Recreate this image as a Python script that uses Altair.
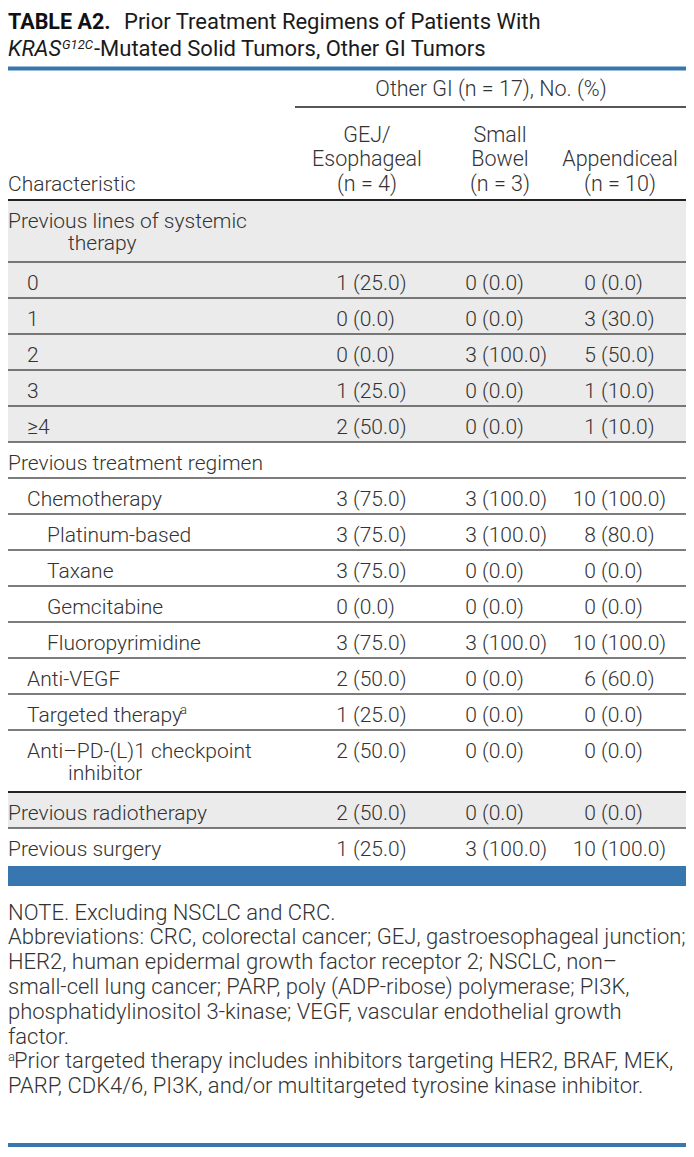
import altair as alt
import pandas as pd

# ---------------- data ----------------
title_bold = "TABLE A2."
title_rest1 = "Prior Treatment Regimens of Patients With"
title_gene = "KRAS"
title_sup = "G12C"
title_rest2 = "-Mutated Solid Tumors, Other GI Tumors"

spanner = "Other GI (n = 17), No. (%)"
stub_header = "Characteristic"
col_headers = [["GEJ/", "Esophageal", "(n = 4)"],
               ["Small", "Bowel", "(n = 3)"],
               ["Appendiceal", "(n = 10)"]]

row_labels = [["Previous lines of systemic", "therapy"], ["0"], ["1"], ["2"], ["3"], ["≥4"],
              ["Previous treatment regimen"], ["Chemotherapy"], ["Platinum-based"], ["Taxane"],
              ["Gemcitabine"], ["Fluoropyrimidine"], ["Anti-VEGF"], ["Targeted therapy"],
              ["Anti–PD-(L)1 checkpoint", "inhibitor"], ["Previous radiotherapy"], ["Previous surgery"]]
row_indent = [0, 1, 1, 1, 1, 1, 0, 1, 2, 2, 2, 2, 1, 1, 1, 0, 0]
row_group = [0, 0, 0, 0, 0, 0, 1, 1, 1, 1, 1, 1, 1, 1, 1, 2, 3]
row_note = ["", "", "", "", "", "", "", "", "", "", "", "", "", "a", "", "", ""]

gej_n = [None, 1, 0, 0, 1, 2, None, 3, 3, 3, 0, 3, 2, 1, 2, 2, 1]
gej_pct = [None, 25.0, 0.0, 0.0, 25.0, 50.0, None, 75.0, 75.0, 75.0, 0.0, 75.0, 50.0, 25.0, 50.0, 50.0, 25.0]
sb_n = [None, 0, 0, 3, 0, 0, None, 3, 3, 0, 0, 3, 0, 0, 0, 0, 3]
sb_pct = [None, 0.0, 0.0, 100.0, 0.0, 0.0, None, 100.0, 100.0, 0.0, 0.0, 100.0, 0.0, 0.0, 0.0, 0.0, 100.0]
app_n = [None, 0, 3, 5, 1, 1, None, 10, 8, 0, 0, 10, 6, 0, 0, 0, 10]
app_pct = [None, 0.0, 30.0, 50.0, 10.0, 10.0, None, 100.0, 80.0, 0.0, 0.0, 100.0, 60.0, 0.0, 0.0, 0.0, 100.0]

notes = ["NOTE. Excluding NSCLC and CRC.",
         "Abbreviations: CRC, colorectal cancer; GEJ, gastroesophageal junction;",
         "HER2, human epidermal growth factor receptor 2; NSCLC, non–",
         "small-cell lung cancer; PARP, poly (ADP-ribose) polymerase; PI3K,",
         "phosphatidylinositol 3-kinase; VEGF, vascular endothelial growth",
         "factor.",
         "Prior targeted therapy includes inhibitors targeting HER2, BRAF, MEK,",
         "PARP, CDK4/6, PI3K, and/or multitargeted tyrosine kinase inhibitor."]
notes_mark_line = 6
footnote_mark = "a"

# ---------------- layout (page pixel frame) ----------------
X0, X1 = 8, 686          # visible page area (8px body margin)
Y0, Y1 = 8, 1149
W, H = X1 - X0, Y1 - Y0
FS = 21          # body
FS_HEAD = 21.5   # column headers
FS_TITLE = 22
FS_TITLE_BOLD = 21.5
FS_NOTE = 22
FS_SUP = 13
BLUE = "#3776ae"
GRAY = "#ebebeb"
TXT = "#333333"
TTL = "#1a1a1a"

X_INDENT = [8, 27, 47]
X_WRAP = 68
COL_SPLIT = [348, 477, 596]
GAP = 5
COL_CENTER = [367, 500, 620]
TABLE_RIGHT = 686

rects, rules, left, right, center = [], [], [], [], []
title_reg, bold, italic, italic_sup, sup, note_txt = [], [], [], [], [], []

# title
bold.append(dict(x=X0, y=29, t=title_bold))
title_reg.append(dict(x=124, y=29, t=title_rest1))
italic.append(dict(x=X0, y=55.5, t=title_gene))
italic_sup.append(dict(x=62, y=49, t=title_sup))
title_reg.append(dict(x=94, y=55.5, t=title_rest2))
rects.append(dict(x=X0, x2=X1, y=66.5, y2=70.5, c=BLUE))

# header
center.append(dict(x=491, y=95.5, t=spanner))
rules.append(dict(x=295, x2=TABLE_RIGHT, y=107, c="#1e1e1e", w=1.5))
for cx, lines in zip(COL_CENTER, col_headers):
    base = 190.5 - 24.5 * (len(lines) - 1)
    for k, ln in enumerate(lines):
        center.append(dict(x=cx, y=base + 24.5 * k, t=ln))
left.append(dict(x=X0, y=190.5, t=stub_header))

# body rows
top = 200
cols = [(gej_n, gej_pct), (sb_n, sb_pct), (app_n, app_pct)]
for i, lines in enumerate(row_labels):
    h = 36 if len(lines) == 1 else 62
    if i == len(row_labels) - 1:
        h = 38
    shaded = row_group[i] % 2 == 0
    if shaded:
        rects.append(dict(x=X0, x2=TABLE_RIGHT, y=top, y2=top + h, c=GRAY))
    prev_shaded = (i > 0 and row_group[i - 1] % 2 == 0)
    if i == 0 or (shaded and not prev_shaded):
        rules.append(dict(x=X0, x2=TABLE_RIGHT, y=top, c="#222222", w=2.2))
    else:
        rules.append(dict(x=X0, x2=TABLE_RIGHT, y=top, c="#505050", w=1.4))
    for k, ln in enumerate(lines):
        xx = X_INDENT[row_indent[i]] if k == 0 else X_WRAP
        left.append(dict(x=xx, y=top + 27.5 + 22 * k, t=ln))
    if row_note[i]:
        sup.append(dict(x=X_INDENT[row_indent[i]] + 153, y=top + 20, t=row_note[i]))
    for (ns, ps), xs in zip(cols, COL_SPLIT):
        if ns[i] is not None:
            right.append(dict(x=xs, y=top + 27.5, t=str(ns[i])))
            left.append(dict(x=xs + GAP, y=top + 27.5, t=f"({ps[i]:.1f})"))
    top += h

rects.append(dict(x=X0, x2=X1, y=top, y2=top + 20, c=BLUE))

# footnotes
for k, ln in enumerate(notes):
    yy = 919.5 + 24.8 * k
    xx = X0
    if k == notes_mark_line:
        sup.append(dict(x=X0, y=yy - 7, t=footnote_mark))
        xx = X0 + 6
    note_txt.append(dict(x=xx, y=yy, t=ln))
rects.append(dict(x=X0, x2=X1, y=1143, y2=1147, c=BLUE))

# ---------------- chart ----------------
xs = alt.Scale(domain=[X0, X1], nice=False, zero=False)
ys = alt.Scale(domain=[Y0, Y1], reverse=True, nice=False, zero=False)


def X(f="x"):
    return alt.X(f + ":Q", scale=xs, axis=None)


def Y(f="y"):
    return alt.Y(f + ":Q", scale=ys, axis=None)


rect_layer = alt.Chart(pd.DataFrame(rects)).mark_rect().encode(
    x=X(), x2="x2:Q", y=Y(), y2="y2:Q", color=alt.Color("c:N", scale=None))

rule_layer = alt.Chart(pd.DataFrame(rules)).mark_rule().encode(
    x=X(), x2="x2:Q", y=Y(), color=alt.Color("c:N", scale=None),
    strokeWidth=alt.StrokeWidth("w:Q", scale=None))


def text_layer(rows, align, size=FS, weight=300, style="normal", color=TXT):
    return alt.Chart(pd.DataFrame(rows)).mark_text(
        align=align, baseline="alphabetic", font="Roboto", fontSize=size,
        fontWeight=weight, fontStyle=style, color=color
    ).encode(x=X(), y=Y(), text="t:N")


layers = [
    rect_layer,
    rule_layer,
    text_layer(left, "left"),
    text_layer(right, "right"),
    text_layer(center, "center", size=FS_HEAD),
    text_layer(note_txt, "left", size=FS_NOTE),
    text_layer(title_reg, "left", size=FS_TITLE, weight=400, color=TTL),
    text_layer(bold, "left", size=FS_TITLE_BOLD, weight="bold", color="#111111"),
    text_layer(italic, "left", size=FS_TITLE, weight=400, style="italic", color=TTL),
    text_layer(italic_sup, "left", size=FS_SUP, weight=400, style="italic", color=TTL),
    text_layer(sup, "left", size=FS_SUP, color=TXT),
]

chart = alt.layer(*layers).properties(
    width=W, height=H, padding=0, autosize="none", background="white"
).configure_view(stroke=None)

chart.save("out.html", embed_options={"renderer": "svg", "actions": False})
